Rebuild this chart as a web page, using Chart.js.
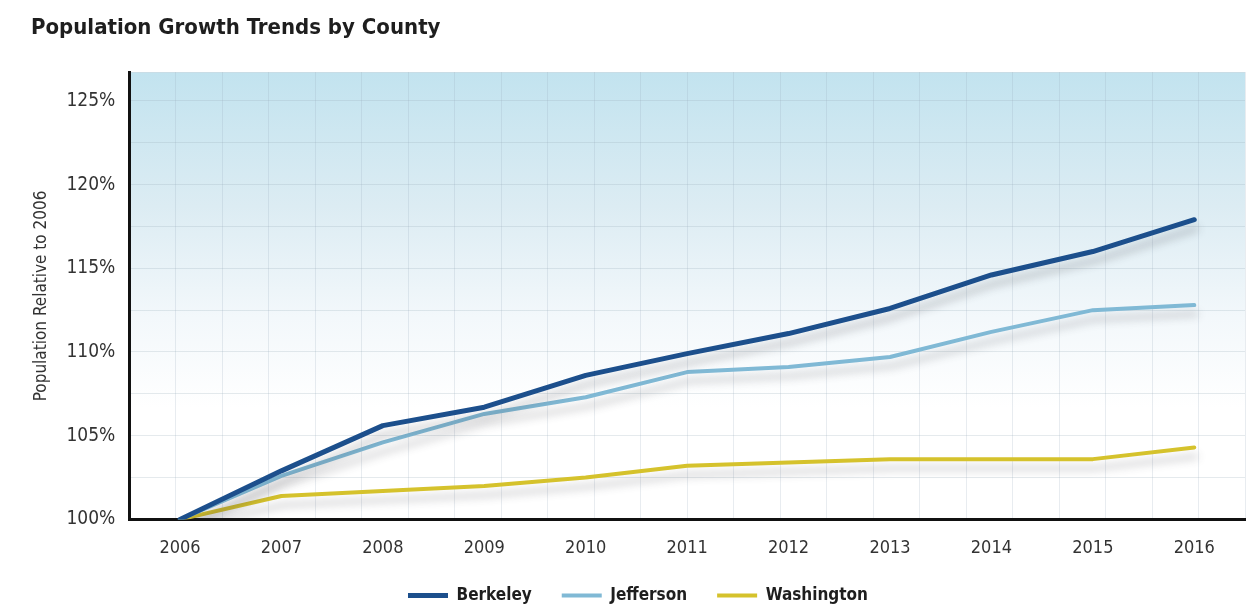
<!DOCTYPE html>
<html>
<head>
<meta charset="utf-8">
<script src="https://cdn.jsdelivr.net/npm/chart.js@4.4.1/dist/chart.umd.min.js"></script>
<style>
html, body { margin: 0; padding: 0; background: #fff; }
#wrap { width: 1248px; height: 606px; position: relative; }
</style>
</head>
<body>
<div id="wrap"><canvas id="chartPop"></canvas></div>
<script>
const years = ['2006', '2007', '2008', '2009', '2010', '2011', '2012', '2013', '2014', '2015', '2016'];
const berkeley = [100, 102.9, 105.6, 106.7, 108.6, 109.9, 111.1, 112.6, 114.6, 116.0, 117.9];
const jefferson = [100, 102.6, 104.6, 106.3, 107.3, 108.8, 109.1, 109.7, 111.2, 112.5, 112.8];
const washington = [100, 101.4, 101.7, 102.0, 102.5, 103.2, 103.4, 103.6, 103.6, 103.6, 104.3];
const yLabels = [100, 105, 110, 115, 120, 125];

const narrow = '"Liberation Sans Narrow", "DejaVu Sans Condensed", "Roboto", sans-serif';

const ctxPop = document.getElementById('chartPop').getContext('2d');

const bgPlugin = {
	id: 'plotBackground',
	beforeDraw: (chart) => {
		const {ctx, chartArea} = chart;
		if (!chartArea) return;
		const g = ctx.createLinearGradient(0, chartArea.top, 0, chartArea.bottom);
		g.addColorStop(0, '#c2e3ef');
		g.addColorStop(0.3, '#dcecf3');
		g.addColorStop(0.55, '#f3f8fb');
		g.addColorStop(0.75, '#ffffff');
		g.addColorStop(1, '#ffffff');
		ctx.save();
		ctx.fillStyle = g;
		ctx.fillRect(chartArea.left, chartArea.top, chartArea.right - chartArea.left, chartArea.bottom - chartArea.top);
		ctx.restore();
	}
};

const shadowPlugin = {
	id: 'lineShadow',
	beforeDatasetDraw: (chart) => {
		const {ctx} = chart;
		ctx.save();
		ctx.shadowColor = 'rgba(60, 60, 70, 0.28)';
		ctx.shadowBlur = 8;
		ctx.shadowOffsetX = 2;
		ctx.shadowOffsetY = 9;
	},
	afterDatasetDraw: (chart) => {
		chart.ctx.restore();
	}
};

new Chart(ctxPop, {
	type: 'line',
	data: {
		labels: years,
		datasets: [
			{
				label: 'Berkeley',
				data: berkeley,
				borderColor: '#1c4f8c',
				backgroundColor: '#1c4f8c',
				borderWidth: 5,
				pointRadius: 0,
				borderCapStyle: 'round',
				borderJoinStyle: 'round',
				tension: 0
			},
			{
				label: 'Jefferson',
				data: jefferson,
				borderColor: '#80b9d5',
				backgroundColor: '#80b9d5',
				borderWidth: 4,
				pointRadius: 0,
				borderCapStyle: 'round',
				borderJoinStyle: 'round',
				tension: 0
			},
			{
				label: 'Washington',
				data: washington,
				borderColor: '#d5c22c',
				backgroundColor: '#d5c22c',
				borderWidth: 4,
				pointRadius: 0,
				borderCapStyle: 'round',
				borderJoinStyle: 'round',
				tension: 0
			}
		]
	},
	options: {
		responsive: true,
		maintainAspectRatio: false,
		animation: false,
		layout: {
			padding: { top: 4, left: 31, right: 3, bottom: -8 }
		},
		scales: {
			x: {
				offset: true,
				grid: { display: false, drawTicks: false },
				border: { display: true, color: '#111', width: 3 },
				ticks: {
					padding: 18,
					color: '#333',
					font: { family: narrow, size: 18 }
				},
				// legend padding is wide for the item gaps, give the room back here
				afterFit: (axis) => { axis.height -= 20; }
			},
			xg: {
				type: 'linear',
				position: 'top',
				min: 0,
				max: 24,
				ticks: { display: false, stepSize: 1 },
				grid: { color: 'rgba(150, 170, 185, 0.22)', drawTicks: false },
				border: { display: false }
			},
			y: {
				min: 100,
				max: 126.7,
				afterBuildTicks: (axis) => {
					const t = [];
					for (let v = 100; v < 126.7; v += 1.25) t.push({ value: v });
					t.push({ value: 126.7 });
					axis.ticks = t;
				},
				ticks: {
					padding: 14,
					color: '#333',
					font: { family: narrow, size: 19 },
					callback: (v) => yLabels.includes(v) ? v + '%' : ''
				},
				grid: { color: 'rgba(150, 170, 185, 0.25)', drawTicks: false },
				border: { display: true, color: '#111', width: 3 },
				title: {
					display: true,
					text: 'Population Relative to 2006',
					color: '#333',
					padding: { top: 0, bottom: 1 },
					font: { family: narrow, size: 17 }
				}
			}
		},
		plugins: {
			title: {
				display: true,
				text: 'Population Growth Trends by County',
				align: 'start',
				color: '#1e1e1e',
				padding: { top: 11, bottom: 31 },
				font: { family: narrow, size: 22, weight: 'bold' }
			},
			legend: {
				position: 'bottom',
				labels: {
					usePointStyle: true,
					pointStyle: 'line',
					pointStyleWidth: 40,
					boxHeight: 17,
					padding: 30,
					color: '#1e1e1e',
					font: { family: narrow, size: 17, weight: 'bold' }
				}
			},
			tooltip: { enabled: false }
		}
	},
	plugins: [bgPlugin, shadowPlugin]
});
</script>
</body>
</html>
